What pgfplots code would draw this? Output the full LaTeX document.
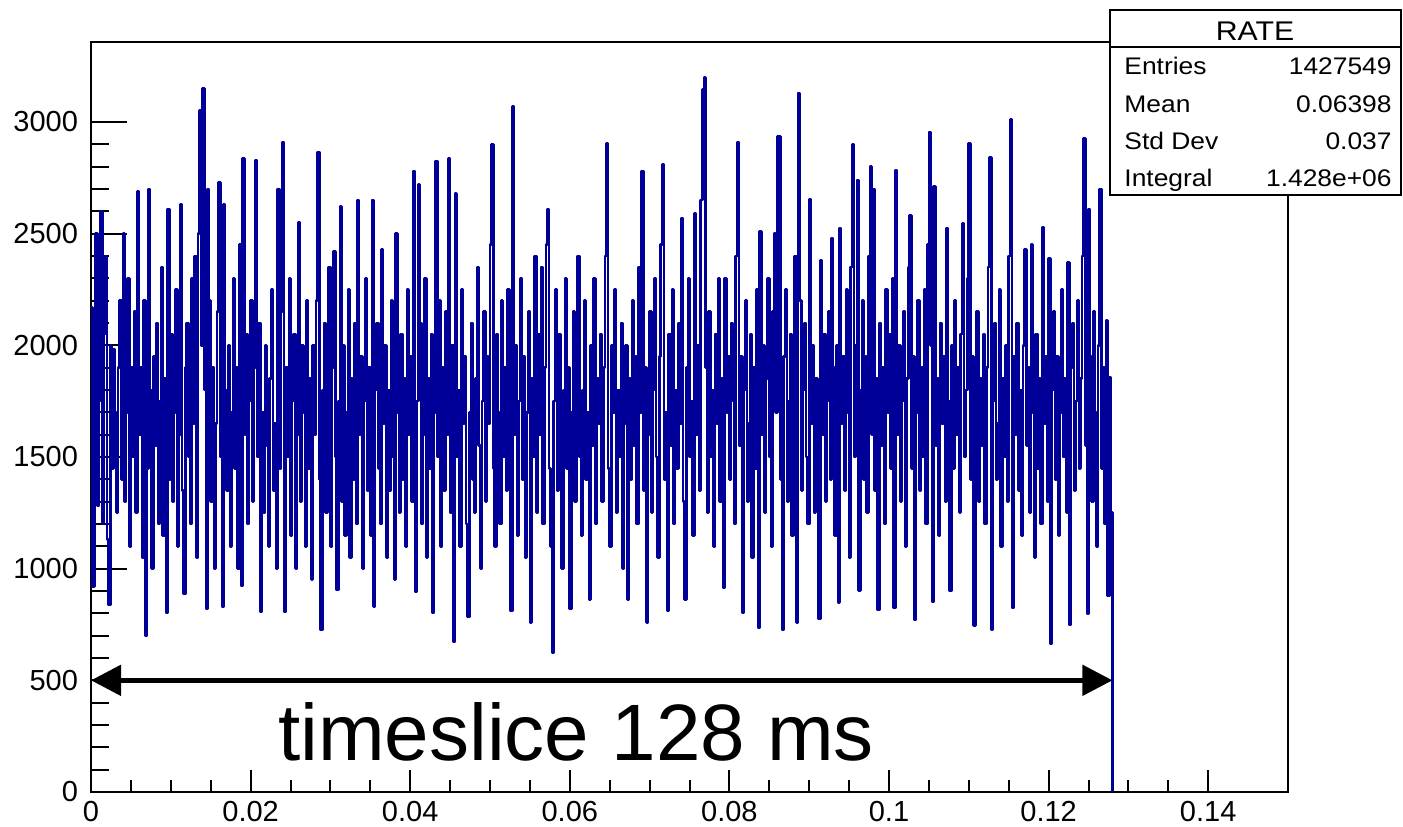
\documentclass[border=0pt]{standalone}
\usepackage{fontspec}
\setmainfont{Liberation Sans}
\usepackage{pgfplots}
\usepackage{pgfplotstable}
\pgfplotsset{compat=1.18}
\usetikzlibrary{arrows.meta}
\definecolor{rootblue}{RGB}{0,0,153}
\pgfplotstableread[header=false,row sep=\\]{
2170\\920\\1870\\2500\\1280\\1750\\2600\\1200\\2050\\2400\\1130\\837\\2000\\1450\\1980\\1700\\1250\\1900\\2200\\1400\\
2500\\1300\\1700\\2300\\1100\\1900\\1500\\2150\\1250\\2690\\1600\\1900\\1050\\2200\\699\\1450\\2700\\1800\\1000\\1950\\
1550\\2100\\1200\\1750\\2350\\1150\\1850\\802\\2610\\1400\\2050\\1300\\1700\\2250\\1100\\1600\\2630\\1350\\887\\1900\\
2100\\1500\\1200\\2300\\1650\\2400\\1050\\2500\\3050\\2000\\3150\\1800\\819\\2700\\2200\\1300\\1900\\1000\\1650\\2150\\
2730\\1500\\828\\2630\\1800\\1350\\2000\\1100\\1700\\2300\\1450\\1900\\1000\\2450\\922\\2835\\1600\\2050\\1200\\1750\\
2200\\1300\\1900\\2830\\1500\\2100\\806\\1700\\1250\\2000\\1550\\1100\\1850\\2250\\1350\\1650\\1000\\2700\\1450\\2150\\
2910\\806\\1900\\1500\\2300\\1150\\1750\\2050\\1000\\1600\\2550\\1300\\2000\\1700\\1100\\2200\\1450\\1850\\950\\2000\\
1600\\2200\\2865\\1400\\725\\1800\\2100\\1250\\1650\\2350\\1100\\1900\\2420\\1500\\904\\1750\\2620\\1300\\2000\\1150\\
1700\\2250\\1050\\1850\\1400\\2100\\1200\\2650\\1600\\1950\\1000\\1750\\2300\\1350\\1900\\1150\\2650\\830\\1800\\2100\\
1450\\1200\\2430\\1650\\2000\\1050\\1800\\1350\\2200\\1500\\950\\2500\\1700\\1250\\2050\\1400\\1850\\1100\\2250\\1600\\
1950\\1300\\2780\\896\\1750\\2720\\2100\\1200\\1600\\2300\\1050\\1850\\1450\\2050\\802\\1700\\2825\\1500\\2200\\1100\\
1900\\1350\\2150\\1600\\2835\\1250\\2000\\672\\2680\\1500\\1800\\1100\\2250\\1650\\1950\\1200\\784\\1700\\2100\\1400\\
1250\\1850\\2350\\1550\\1000\\1750\\2150\\1300\\1950\\1650\\2450\\2900\\1450\\1100\\2050\\1700\\1200\\2200\\1500\\1900\\
1350\\2250\\1800\\811\\3070\\1600\\2000\\1150\\1750\\2300\\1400\\1950\\1050\\1700\\2150\\759\\1850\\1500\\2400\\1250\\
2050\\1600\\2350\\1200\\1900\\2450\\2610\\1450\\1100\\622\\1750\\2250\\1350\\2050\\1600\\1000\\1800\\2300\\1450\\1900\\
820\\1700\\2150\\1300\\1950\\2400\\1500\\1150\\1800\\2200\\1400\\1700\\862\\2000\\1550\\2300\\1200\\1850\\1650\\2050\\
1300\\1900\\2400\\2905\\1450\\1100\\2000\\1700\\2250\\1250\\1800\\1500\\2100\\1000\\1650\\2000\\862\\1850\\1400\\2200\\
1550\\1950\\1200\\2350\\1700\\2780\\1350\\1900\\758\\1600\\2150\\1250\\1800\\2300\\1500\\1050\\1950\\2450\\2810\\1400\\
1700\\811\\2050\\1550\\2250\\1200\\1800\\1450\\2100\\1650\\2570\\1300\\862\\1900\\2300\\1500\\1750\\1150\\2590\\1600\\
2000\\1350\\2650\\3145\\3200\\1900\\1250\\2150\\1500\\1800\\1100\\2050\\1650\\2300\\1300\\1850\\913\\2300\\1700\\1950\\
1400\\2100\\1750\\1200\\2400\\2910\\1550\\1950\\802\\1800\\2200\\1300\\1650\\2050\\1050\\1900\\1450\\2250\\734\\2510\\
1600\\2000\\1250\\1850\\2300\\1500\\1100\\2150\\2500\\1700\\2935\\2935\\1400\\725\\1950\\2250\\1300\\1750\\2050\\1150\\
1900\\2400\\759\\3130\\2200\\1350\\1800\\2100\\1500\\1200\\2655\\1650\\2000\\1250\\1850\\1450\\775\\2380\\1600\\2050\\
1300\\1750\\2150\\1400\\2480\\1900\\1150\\2000\\848\\2525\\1650\\1950\\1350\\2250\\1700\\1050\\2350\\2900\\1500\\2000\\
2740\\901\\1800\\2200\\1400\\1950\\1250\\2400\\2800\\1600\\2700\\1350\\1850\\815\\2100\\1550\\1900\\1200\\2250\\1700\\
2050\\1450\\2300\\824\\2785\\1600\\2000\\1300\\1750\\2150\\1100\\1850\\2350\\2580\\1450\\1950\\770\\1700\\2200\\1350\\
1900\\1500\\2250\\1200\\2450\\2955\\2000\\851\\2710\\1550\\1850\\1150\\2100\\1650\\1950\\1300\\2525\\1750\\900\\2000\\
1450\\2200\\1600\\1900\\1250\\2050\\2545\\1500\\1800\\2300\\2905\\1400\\1950\\745\\1700\\2150\\1300\\1850\\1550\\2050\\
1200\\1900\\2350\\2840\\725\\1750\\2100\\1400\\1650\\2250\\1100\\1850\\1500\\2000\\1300\\2400\\3010\\824\\1950\\1600\\
2100\\1350\\1800\\1150\\2000\\2430\\1550\\1900\\1250\\2450\\1700\\1050\\2050\\1450\\1850\\1200\\2530\\1650\\1950\\1300\\
2390\\663\\1800\\2150\\1400\\1950\\1150\\1700\\2250\\1500\\1850\\1250\\2370\\748\\1900\\2100\\1350\\1750\\2200\\1450\\
1850\\2400\\2925\\1550\\797\\2610\\1950\\1300\\2150\\1700\\1100\\2000\\2700\\1450\\1900\\1200\\2110\\878\\1855\\1250\\
0\\
}\ratedata
\begin{document}
\begin{tikzpicture}[x=1pt,y=1pt]
\useasboundingbox (0,0) rectangle (701.5,413);
\begin{axis}[
  at={(45.5pt,17pt)}, anchor=south west,
  scale only axis, width=598.5pt, height=375pt,
  xmin=0, xmax=0.15, ymin=0, ymax=3358,
  axis line style={line width=1pt},
  tick style={line width=1pt, black},
  tick align=inside,
  xtick pos=left, ytick pos=left,
  xtick={0,0.02,0.04,0.06,0.08,0.1,0.12,0.14},
  minor x tick num=3,
  ytick={0,500,1000,1500,2000,2500,3000},
  minor y tick num=4,
  xtick style={/pgfplots/major tick length=11pt, /pgfplots/minor tick length=6pt},
  ytick style={/pgfplots/major tick length=18pt, /pgfplots/minor tick length=9pt},
  scaled x ticks=false,
  xticklabel style={/pgf/number format/fixed, /pgf/number format/precision=2, yshift=-1pt},
  yticklabel style={/pgf/number format/1000 sep={}, xshift=-3pt},
  /pgf/number format/assume math mode=true,
  ticklabel style={font=\fontsize{14.5}{16}\selectfont},
]
\addplot[const plot, rootblue, line width=1.35pt, line join=bevel] table[x expr=\coordindex*0.0002, y index=0] {\ratedata};
\draw[line width=2.5pt, {Triangle[length=15pt,width=15pt]}-{Triangle[length=15pt,width=15pt]}] (axis cs:0,500) -- (axis cs:0.128,500);
\node[anchor=base, font=\fontsize{40}{44}\selectfont, inner sep=0pt] at (axis cs:0.0608,143) {timeslice 128 ms};
\end{axis}
\draw[line width=1pt, fill=white] (555,408) rectangle (700.5,315.5);
\draw[line width=1pt] (555,389.5) -- (700.5,389.5);
\begin{scope}[every node/.style={inner sep=0pt, font=\fontsize{12}{14}\selectfont}]
\node[anchor=base, font=\fontsize{13.5}{15}\selectfont] at (627.5,392.5) {\scalebox{1.12}[1]{RATE}};
\node[anchor=base west] at (562,375.5) {\scalebox{1.1}[1]{Entries}};
\node[anchor=base east] at (696,375.5) {\scalebox{1.1}[1]{1427549}};
\node[anchor=base west] at (562,356.5) {\scalebox{1.1}[1]{Mean}};
\node[anchor=base east] at (696,356.5) {\scalebox{1.1}[1]{0.06398}};
\node[anchor=base west] at (562,338) {\scalebox{1.1}[1]{Std Dev}};
\node[anchor=base east] at (696,338) {\scalebox{1.1}[1]{0.037}};
\node[anchor=base west] at (562,319.5) {\scalebox{1.1}[1]{Integral}};
\node[anchor=base east] at (696,319.5) {\scalebox{1.1}[1]{1.428e+06}};
\end{scope}
\end{tikzpicture}
\end{document}
